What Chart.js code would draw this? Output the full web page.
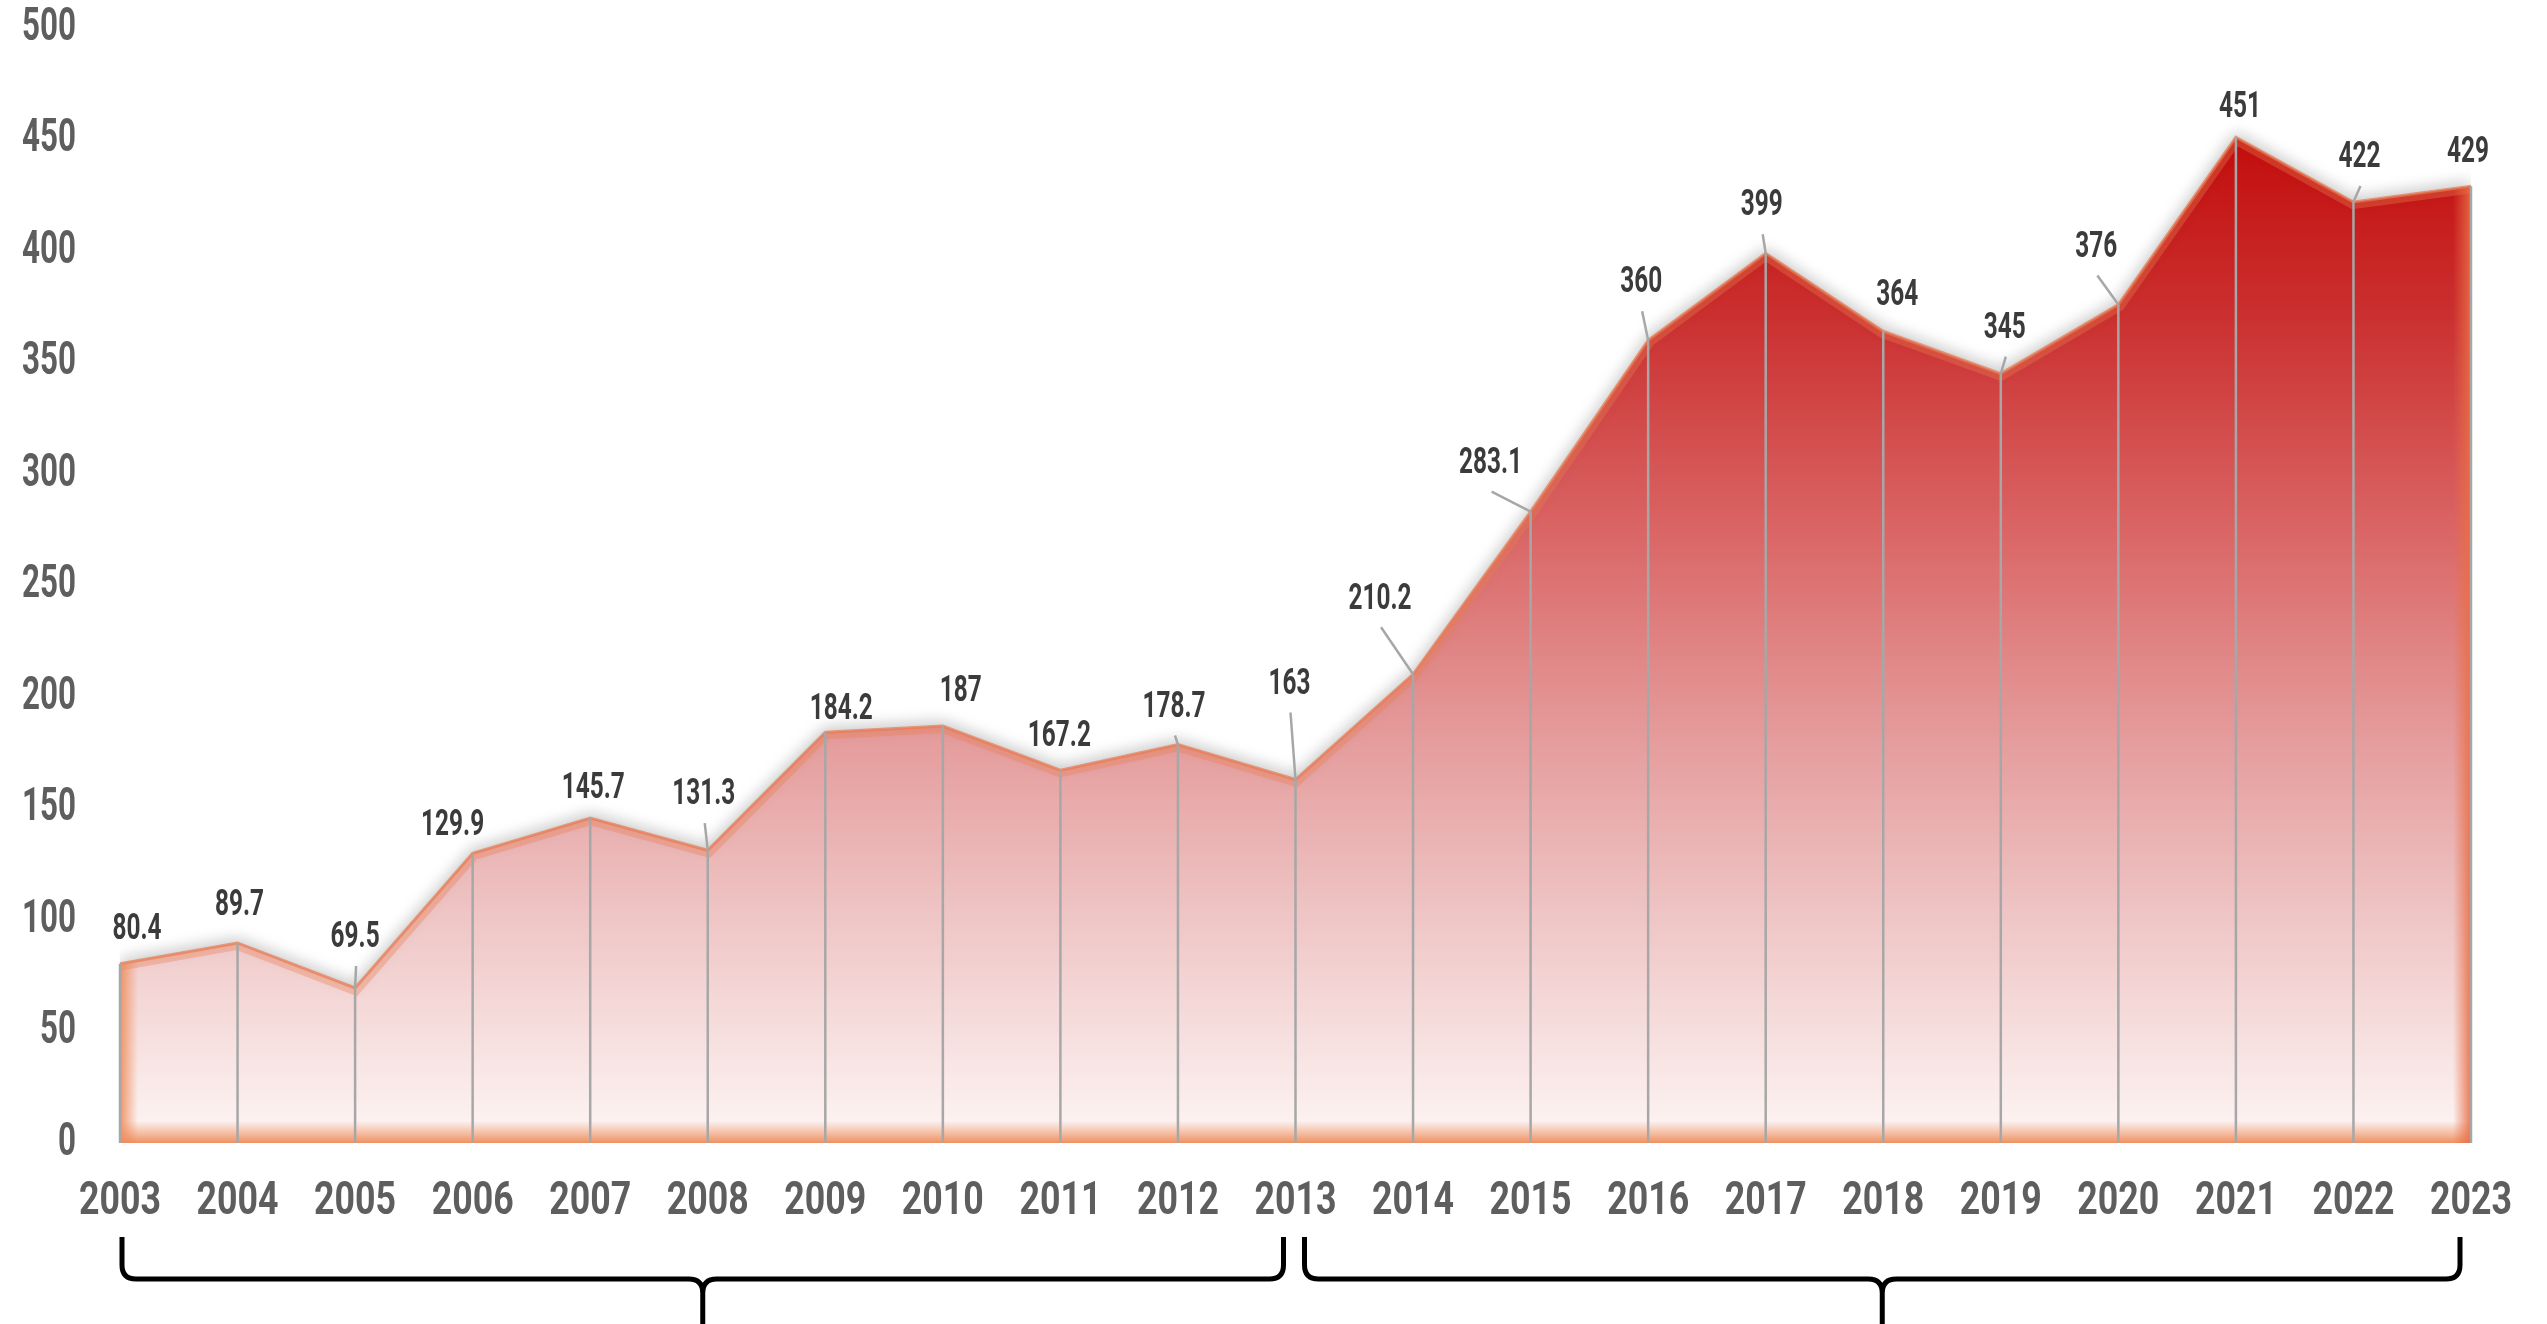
<!DOCTYPE html>
<html>
<head>
<meta charset="utf-8">
<script src="https://cdn.jsdelivr.net/npm/chart.js@4.4.1/dist/chart.umd.min.js"></script>
<style>
  html, body { margin: 0; padding: 0; background: #fff; }
  #wrap { width: 2547px; height: 1324px; }
</style>
</head>
<body>
<div id="wrap"><canvas id="myChart"></canvas></div>
<script>
// data
const years = ["2003", "2004", "2005", "2006", "2007", "2008", "2009", "2010", "2011", "2012",
  "2013", "2014", "2015", "2016", "2017", "2018", "2019", "2020", "2021", "2022", "2023"];
const values = [80.4, 89.7, 69.5, 129.9, 145.7, 131.3, 184.2, 187, 167.2, 178.7,
  163, 210.2, 283.1, 360, 399, 364, 345, 376, 451, 422, 429];
const yTicks = [0, 50, 100, 150, 200, 250, 300, 350, 400, 450, 500];
const periods = [["2003", "2013"], ["2013", "2023"]];

// where each value label sits relative to its point: [dx, dy, leader line]
const labelPlace = [
  [17, -34, 0], [2, -37, 0], [0, -50, 1], [-20, -28, 0], [3, -29, 0], [-4, -55, 1],
  [16, -22, 0], [18, -34, 0], [-1, -33, 0], [-4, -37, 1], [-6, -95, 1], [-33, -75, 1],
  [-40, -48, 1], [-7, -57, 1], [-4, -47, 1], [14, -36, 0], [4, -45, 1], [-22, -57, 1],
  [4, -30, 0], [6, -44, 1], [-3, -34, 0],
];

const FONT = "Roboto, 'DejaVu Sans Condensed', sans-serif";

// condensed text: the original uses a narrow display face, so squeeze horizontally
function narrowText(ctx, text, x, y, size, digitW, align, color) {
  ctx.save();
  ctx.font = "bold " + size + "px " + FONT;
  ctx.fillStyle = color;
  ctx.textAlign = align;
  ctx.textBaseline = "middle";
  const s = digitW / ctx.measureText("0").width;
  ctx.translate(x, y);
  ctx.scale(s, 1);
  ctx.fillText(text, 0, 0);
  ctx.restore();
}

function areaGradient(context) {
  const { ctx, chartArea } = context.chart;
  if (!chartArea) return "#e08080";
  const g = ctx.createLinearGradient(0, chartArea.top, 0, chartArea.bottom);
  g.addColorStop(0, "#bd0000");
  g.addColorStop(0.12, "#c41212");
  g.addColorStop(0.26, "#cb3030");
  g.addColorStop(0.45, "#da6565");
  g.addColorStop(0.62, "#e49797");
  g.addColorStop(0.8, "#efc6c6");
  g.addColorStop(1, "#fdf6f5");
  return g;
}

const decorations = {
  id: "decorations",
  beforeDatasetsDraw(chart) {
    const ctx = chart.ctx;
    ctx.save();
    ctx.shadowColor = "rgba(0,0,0,0.22)";
    ctx.shadowBlur = 16;
    ctx.shadowOffsetY = -3;
  },
  afterDatasetsDraw(chart) {
    const ctx = chart.ctx;
    ctx.restore();
    const pts = chart.getDatasetMeta(0).data;
    const y = chart.scales.y;
    const base = y.getPixelForValue(0);

    // orange glow along the top edge, bottom and sides, inside the area
    ctx.save();
    ctx.beginPath();
    ctx.moveTo(pts[0].x, base);
    pts.forEach((p) => ctx.lineTo(p.x, p.y));
    ctx.lineTo(pts[pts.length - 1].x, base);
    ctx.closePath();
    ctx.clip();
    ctx.beginPath();
    pts.forEach((p, i) => (i ? ctx.lineTo(p.x, p.y) : ctx.moveTo(p.x, p.y)));
    ctx.strokeStyle = "rgba(236,125,80,0.35)";
    ctx.lineWidth = 14;
    ctx.stroke();
    let g = ctx.createLinearGradient(0, base, 0, base - 22);
    g.addColorStop(0, "rgba(238,140,90,0.95)");
    g.addColorStop(1, "rgba(238,140,90,0)");
    ctx.fillStyle = g;
    ctx.fillRect(pts[0].x, base - 22, pts[pts.length - 1].x - pts[0].x, 22);
    g = ctx.createLinearGradient(pts[0].x, 0, pts[0].x + 18, 0);
    g.addColorStop(0, "rgba(238,140,90,0.9)");
    g.addColorStop(1, "rgba(238,140,90,0)");
    ctx.fillStyle = g;
    ctx.fillRect(pts[0].x, 0, 18, base);
    const xr = pts[pts.length - 1].x;
    g = ctx.createLinearGradient(xr, 0, xr - 18, 0);
    g.addColorStop(0, "rgba(232,110,70,0.9)");
    g.addColorStop(1, "rgba(232,110,70,0)");
    ctx.fillStyle = g;
    ctx.fillRect(xr - 18, 0, 18, base);
    ctx.restore();

    // drop lines from each point to the baseline
    ctx.save();
    ctx.strokeStyle = "#a7a7a7";
    ctx.lineWidth = 2.5;
    pts.forEach((p) => {
      ctx.beginPath();
      ctx.moveTo(p.x, p.y);
      ctx.lineTo(p.x, base);
      ctx.stroke();
    });

    // value labels with leader lines
    pts.forEach((p, i) => {
      const [dx, dy, leader] = labelPlace[i];
      const lx = p.x + dx, ly = p.y + dy;
      if (leader) {
        ctx.beginPath();
        ctx.moveTo(lx + 1, ly + 28);
        ctx.lineTo(p.x, p.y);
        ctx.stroke();
      }
      narrowText(ctx, String(values[i]), lx, ly, 37, 14, "center", "#3b3b3b");
    });
    ctx.restore();
  },
  afterDraw(chart) {
    const ctx = chart.ctx;
    const x = chart.scales.x, y = chart.scales.y;

    // axis labels
    yTicks.forEach((v) => {
      narrowText(ctx, String(v), 76, y.getPixelForValue(v), 46, 18, "right", "#5e5e5e");
    });
    years.forEach((yr, i) => {
      narrowText(ctx, yr, x.getPixelForValue(i), 1202, 46, 20.5, "center", "#5e5e5e");
    });

    // curly braces under the two periods
    const top = 1237, mid = 1279, tip = 1324, r = 14;
    ctx.save();
    ctx.strokeStyle = "#000";
    ctx.lineWidth = 5;
    periods.forEach(([a, b], k) => {
      const x1 = x.getPixelForValue(years.indexOf(a)) + (k === 0 ? 2 : 9);
      const x2 = x.getPixelForValue(years.indexOf(b)) - (k === 0 ? 12 : 11);
      const xm = (x1 + x2) / 2;
      ctx.beginPath();
      ctx.moveTo(x1, top);
      ctx.lineTo(x1, mid - r);
      ctx.quadraticCurveTo(x1, mid, x1 + r, mid);
      ctx.lineTo(xm - r, mid);
      ctx.quadraticCurveTo(xm, mid, xm, mid + r);
      ctx.lineTo(xm, tip);
      ctx.moveTo(xm, mid + r);
      ctx.quadraticCurveTo(xm, mid, xm + r, mid);
      ctx.lineTo(x2 - r, mid);
      ctx.quadraticCurveTo(x2, mid, x2, mid - r);
      ctx.lineTo(x2, top);
      ctx.stroke();
    });
    ctx.restore();
  },
};

const data = {
  labels: years,
  datasets: [
    {
      data: values,
      fill: "origin",
      backgroundColor: areaGradient,
      borderColor: "rgba(232,118,78,0.7)",
      borderWidth: 3,
      pointRadius: 0,
      tension: 0,
    },
  ],
};

const config = {
  type: "line",
  data,
  options: {
    responsive: true,
    maintainAspectRatio: false,
    animation: false,
    layout: { padding: { top: 28, right: 76, left: 0, bottom: 0 } },
    scales: {
      x: {
        offset: false,
        grid: { display: false },
        border: { display: false },
        ticks: { display: false },
        afterFit: (s) => { s.height = 181; },
      },
      y: {
        min: 0,
        max: 500,
        grid: { display: false },
        border: { display: false },
        ticks: { display: false, stepSize: 50 },
        afterFit: (s) => { s.width = 120; },
      },
    },
    plugins: {
      legend: { display: false },
      tooltip: { enabled: false },
    },
  },
  plugins: [decorations],
};

const myChart = new Chart(document.getElementById("myChart"), config);
</script>
</body>
</html>
